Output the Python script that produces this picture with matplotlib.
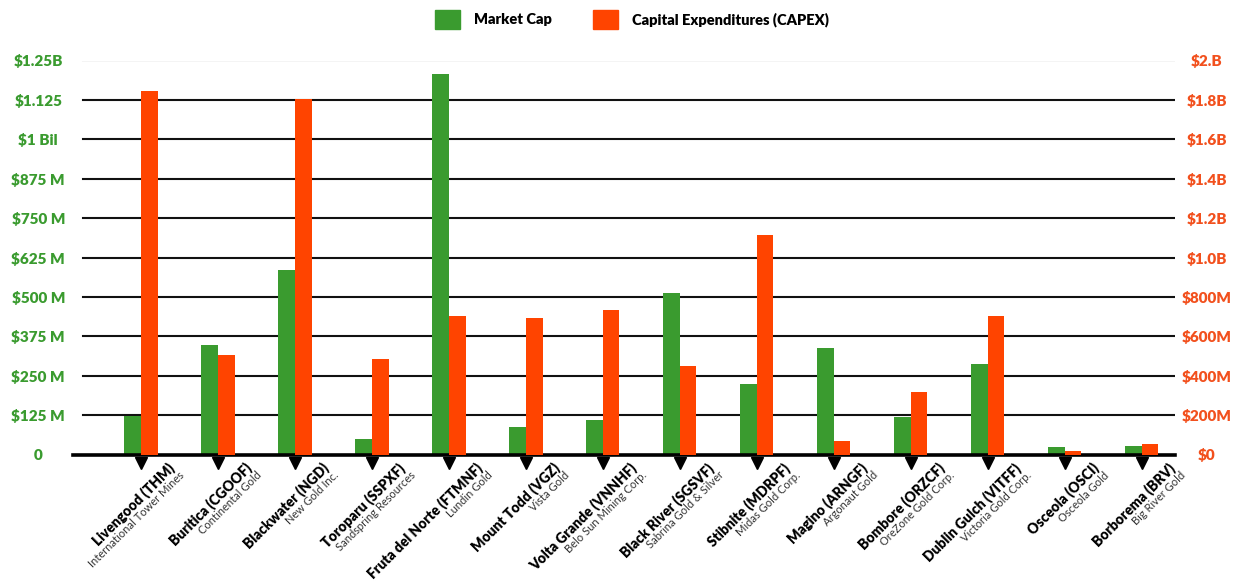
import numpy as np
import matplotlib.pyplot as plt
from matplotlib.patches import Patch

plt.rcParams['font.family'] = ['Lato', 'DejaVu Sans']

# Data (billions of USD)
projects = ['Livengood (THM)', 'Buritica (CGOOF)', 'Blackwater (NGD)', 'Toroparu (SSPXF)',
            'Fruta del Norte (FTMNF)', 'Mount Todd (VGZ)', 'Volta Grande (VNNHF)',
            'Black River (SGSVF)', 'Stibnite (MDRPF)', 'Magino (ARNGF)', 'Bombore (ORZCF)',
            'Dublin Gulch (VITFF)', 'Osceola (OSCI)', 'Borborema (BRV)']
companies = ['International Tower Mines', 'Continental Gold', 'New Gold Inc.',
             'Sandspring Resources', 'Lundin Gold', 'Vista Gold', 'Belo Sun Mining Corp.',
             'Sabrina Gold & Silver', 'Midas Gold Corp.', 'Argonaut Gold', 'OreZone Gold Corp.',
             'Victoria Gold Corp.', 'Osceola Gold', 'Big River Gold']
market_cap = [0.122, 0.347, 0.585, 0.049, 1.207, 0.088, 0.109, 0.511, 0.223, 0.338,
              0.120, 0.287, 0.025, 0.028]
capex = [1.845, 0.505, 1.805, 0.485, 0.703, 0.694, 0.732, 0.451, 1.114, 0.069,
         0.316, 0.703, 0.019, 0.053]

left_ticks = np.arange(0, 1.26, 0.125)
left_labels = ['0', '$125 M', '$250 M', '$375 M', '$500 M', '$625 M', '$750 M',
               '$875 M', '$1 Bil', '$1.125', '$1.25B']
right_ticks = np.arange(0, 2.01, 0.2)
right_labels = ['$0', '$200M', '$400M', '$600M', '$800M', '$1.0B', '$1.2B',
                '$1.4B', '$1.6B', '$1.8B', '$2.B']

green = '#3a9b2f'
orange = '#ff4400'

fig = plt.figure(figsize=(12.44, 5.82), dpi=100)
ax = fig.add_axes([73 / 1244, 1 - 454.5 / 582, 1102 / 1244, 394 / 582])
ax2 = ax.twinx()

x = np.arange(len(projects))
w = 0.215

# grid lines behind the bars
for t in left_ticks[1:]:
    ax.axhline(t, xmin=0.009, xmax=1, color='#111111', lw=1.5, zorder=0)

ax.bar(x, market_cap, width=-w, align='edge', color=green, zorder=2)
ax2.bar(x, capex, width=w, align='edge', color=orange, zorder=2)

ax.set_xlim(-0.883, 13.43)
ax.set_ylim(0, 1.25)
ax2.set_ylim(0, 2.0)

for a in (ax, ax2):
    for s in ['top', 'left', 'right', 'bottom']:
        a.spines[s].set_visible(False)
ax.spines['bottom'].set_visible(True)
ax.spines['bottom'].set_linewidth(2.6)
ax.spines['bottom'].set_color('black')

ax.set_xticks([])
ax.set_yticks(left_ticks)
ax.set_yticklabels(left_labels, fontsize=11, fontweight='heavy', color=green)
ax.tick_params(axis='y', length=0, pad=25)
for lbl in ax.get_yticklabels():
    lbl.set_horizontalalignment('center')

ax2.set_yticks(right_ticks)
ax2.set_yticklabels(right_labels, fontsize=11, fontweight='heavy', color='#f2501d')
ax2.tick_params(axis='y', length=0, pad=23)
for lbl in ax2.get_yticklabels():
    lbl.set_horizontalalignment('center')

# triangle markers under the baseline
ax.plot(x, np.full(len(x), -0.021), linestyle='none', marker='v', markersize=9,
        color='black', clip_on=False, transform=ax.get_xaxis_transform(), zorder=3)

# two-line rotated category labels
for i in range(len(projects)):
    ax.annotate(projects[i], xy=(x[i], 0), xycoords='data', xytext=(26, -6),
                textcoords='offset pixels', rotation=45, rotation_mode='anchor',
                ha='right', va='top', fontsize=10, fontweight='heavy',
                color='black', annotation_clip=False)
    ax.annotate(companies[i], xy=(x[i], 0), xycoords='data', xytext=(38, -15),
                textcoords='offset pixels', rotation=45, rotation_mode='anchor',
                ha='right', va='top', fontsize=8, color='#333333',
                annotation_clip=False)

handles = [Patch(color=green, label='Market Cap'),
           Patch(color=orange, label='Capital Expenditures (CAPEX)')]
fig.legend(handles=handles, loc='upper center', bbox_to_anchor=(0.508, 1.005),
           ncol=2, frameon=False, handlelength=1.7, handleheight=1.6,
           columnspacing=2.8, handletextpad=1.0,
           prop={'weight': 'heavy', 'size': 10.5})

fig.savefig('out.png', dpi=100)
